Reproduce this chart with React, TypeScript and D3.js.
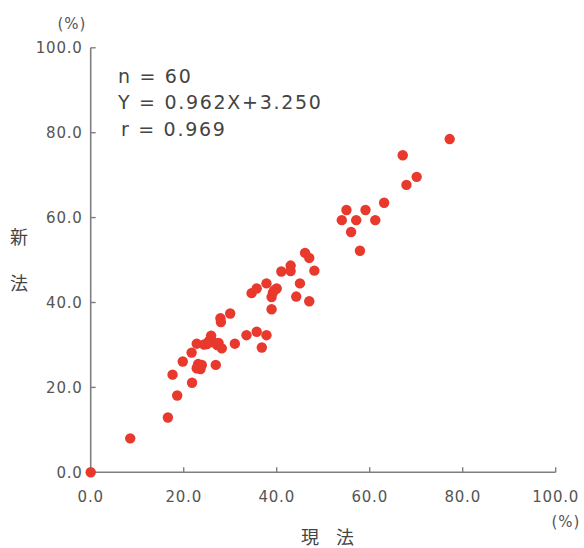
import React from "react";
import * as d3 from "d3";

const xValues = [0, 8.5, 16.6, 18.6, 17.6, 21.8, 19.8, 21.7, 22.8, 22.8, 23.1, 23.9, 26.9, 25.0, 25.9, 26.4, 27.2, 28.2, 27.9, 28.0, 30.0, 31.0, 33.5, 35.7, 37.8, 36.8, 34.6, 35.7, 37.8, 38.9, 39.2, 40.0, 38.9, 41.0, 43.0, 43.0, 45.0, 44.2, 47.0, 48.1, 46.1, 47.0, 55.0, 59.1, 54.0, 57.1, 61.2, 56.0, 57.9, 63.1, 67.9, 70.1, 67.1, 77.2, 27.5, 24.4, 25.4, 23.6, 39.5, 23.0];
const yValues = [0, 8.0, 12.9, 18.1, 23.0, 21.1, 26.1, 28.2, 30.3, 24.5, 25.5, 25.3, 25.3, 30.2, 32.2, 30.6, 30.0, 29.2, 36.3, 35.4, 37.4, 30.3, 32.3, 33.1, 32.3, 29.4, 42.2, 43.3, 44.5, 41.3, 42.4, 43.3, 38.4, 47.3, 48.7, 47.4, 44.5, 41.4, 40.3, 47.5, 51.7, 50.5, 61.8, 61.8, 59.4, 59.4, 59.4, 56.6, 52.2, 63.5, 67.7, 69.6, 74.7, 78.5, 30.5, 30.1, 30.9, 24.3, 42.9, 24.9];
const tickValues = [0, 20, 40, 60, 80, 100];
const tickLabels = ["0.0", "20.0", "40.0", "60.0", "80.0", "100.0"];
const statLines = ["n = 60", "Y = 0.962X+3.250", "r = 0.969"];
const xTitle = ["現", "法"];
const yTitle = ["新", "法"];
const unitLabel = "(%)";

export default function App() {
  const x = d3.scaleLinear().domain([0, 100]).range([90.7, 555.7]);
  const y = d3.scaleLinear().domain([0, 100]).range([472.3, 47.8]);
  const axisColor = "#7f7f7f";
  const textColor = "#555";
  const font = "'DejaVu Sans', sans-serif";
  const cjk = "'Noto Sans CJK JP', sans-serif";
  const pts = xValues.map((v, i) => [v, yValues[i]]);
  return (
    <svg width={584} height={548} style={{ position: "absolute", left: 0, top: 0, background: "#fff" }}>
      <line x1={x(0)} x2={x(0)} y1={y(0)} y2={y(100)} stroke={axisColor} strokeWidth={1.6} />
      <line x1={x(0)} x2={x(100)} y1={y(0)} y2={y(0)} stroke={axisColor} strokeWidth={1.6} />
      {tickValues.slice(1).map((t) => (
        <line key={"yt" + t} x1={x(0)} x2={x(0) + 5} y1={y(t)} y2={y(t)} stroke={axisColor} strokeWidth={1.4} />
      ))}
      {tickValues.slice(1).map((t) => (
        <line key={"xt" + t} x1={x(t)} x2={x(t)} y1={y(0)} y2={y(0) - 5} stroke={axisColor} strokeWidth={1.4} />
      ))}
      {tickValues.map((t, i) => (
        <text key={"yl" + t} x={x(0) - 8} y={y(t)} dy="0.36em" textAnchor="end" fontFamily={font} fontSize={15} fill={textColor} letterSpacing={0.8}>
          {tickLabels[i]}
        </text>
      ))}
      {tickValues.map((t, i) => (
        <text key={"xl" + t} x={x(t)} y={497} dy="0.36em" textAnchor="middle" fontFamily={font} fontSize={15} fill={textColor} letterSpacing={0.8}>
          {tickLabels[i]}
        </text>
      ))}
      <text x={72} y={24} dy="0.36em" textAnchor="middle" fontFamily={font} fontSize={15} fill={textColor} letterSpacing={1}>{unitLabel}</text>
      <text x={566} y={522} dy="0.36em" textAnchor="middle" fontFamily={font} fontSize={15} fill={textColor} letterSpacing={1}>{unitLabel}</text>
      {xTitle.map((c, i) => (
        <text key={"xt" + i} x={310 + i * 35} y={538} dy="0.36em" textAnchor="middle" fontFamily={cjk} fontSize={18} fill="#444">{c}</text>
      ))}
      {yTitle.map((c, i) => (
        <text key={"ytl" + i} x={19} y={238 + i * 46} dy="0.36em" textAnchor="middle" fontFamily={cjk} fontSize={18} fill="#444">{c}</text>
      ))}
      {statLines.map((s, i) => (
        <text key={s} x={i === 2 ? 121 : 118} y={76 + i * 26.5} dy="0.36em" fontFamily={font} fontSize={19} fill="#444" letterSpacing={1.7}>{s}</text>
      ))}
      {pts.map(([a, b], i) => (
        <circle key={i} cx={x(a)} cy={y(b)} r={5.2} fill="#e8392c" />
      ))}
    </svg>
  );
}
